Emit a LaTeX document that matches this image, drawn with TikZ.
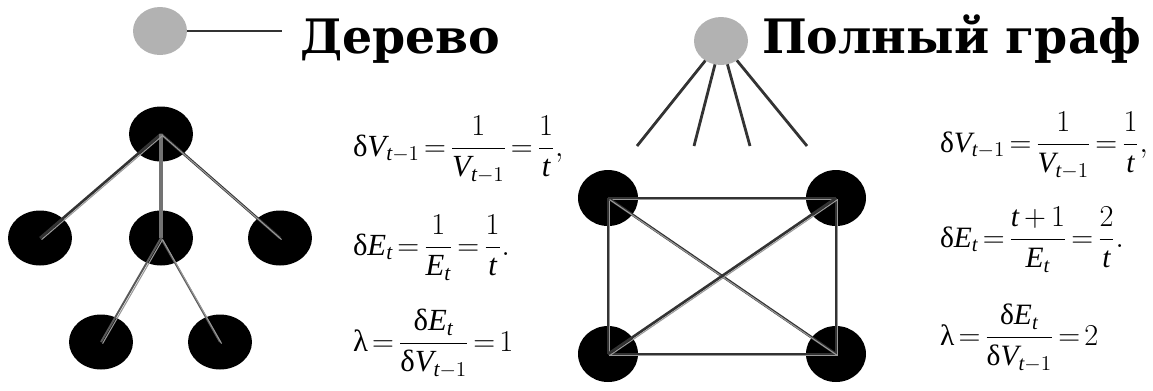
\documentclass[tikz,border=0pt]{standalone}
\usepackage{amsmath}
\usepackage{fontspec}
\setmainfont{Liberation Serif}
\newfontfamily\titlefont{DejaVu Serif}
\usetikzlibrary{shapes.geometric}
\newcommand{\mi}[1]{\textit{#1}}
\newcommand{\dlt}{\text{δ}}
\newcommand{\lmb}{\text{λ}}
\thickmuskip=2.5mu\relax
\medmuskip=3mu\relax

\begin{document}
\begin{tikzpicture}[x=0.02cm, y=-0.02cm,
      every node/.style={inner sep=0pt, outer sep=0pt},
      hub/.style={ellipse, fill=black!30, minimum width=1.08cm, minimum height=0.96cm},
      vertex/.style={ellipse, fill=black, minimum width=1.28cm, minimum height=1.1cm},
      corner/.style={ellipse, fill=black, minimum width=1.2cm, minimum height=1.12cm},
      title/.style={font=\titlefont\bfseries\fontsize{27}{32}\selectfont, anchor=base west},
      formula/.style={font=\fontsize{17.5}{21}\selectfont, anchor=base west},
      narrow/.style={formula, font=\fontsize{16.8}{20}\selectfont},
      spoke/.style={draw=black!80, line width=1.6pt},
      edge/.style={draw=black!80, line width=1.5pt},
      stem/.style={draw=black!55, line width=1.9pt},
      twig/.style={draw=black!65, line width=1.1pt},
      glint/.style={draw=black!40, line width=0.6pt, transform canvas={xshift=0.9pt, yshift=-0.9pt}}
  ]
    \useasboundingbox (0,0) rectangle (1153,390);

    \node[hub] (treehub) at (160,31) {};
    \coordinate (treetail) at (282,31);
    \draw[spoke] (treehub) -- (treetail);
    \node[title] (treetitle) at (300,53) {Дерево};

    \node[hub] (fullhub) at (721,41) {};
    \node[title] (fulltitle) at (762,53) {Полный граф};
    \foreach \n/\x in {1/637,2/694,3/750,4/807} {
      \coordinate (fan\n) at (\x,146);
      \draw[spoke] (fullhub) -- (fan\n);
    }

    \node[vertex] (root) at (161,134) {};
    \node[vertex] (left) at (40,238) {};
    \node[vertex] (mid) at (161,238) {};
    \node[vertex] (right) at (280,238) {};
    \node[vertex] (lowleft) at (101,342) {};
    \node[vertex] (lowright) at (220,342) {};

    \draw[edge] (root.center) -- (left.center);
    \draw[edge] (root.center) -- (right.center);
    \draw[stem] (root.center) -- (mid.center);
    \draw[twig] (mid.center) -- (lowleft.center);
    \draw[twig] (mid.center) -- (lowright.center);
    \foreach \a/\b in {root/left,root/right,mid/lowleft,mid/lowright} {
      \draw[glint] (\a.center) -- (\b.center);
    }

    \node[corner] (nw) at (608,198) {};
    \node[corner] (ne) at (836,198) {};
    \node[corner] (sw) at (608,354) {};
    \node[corner] (se) at (836,354) {};
    \foreach \a/\b in {nw/ne,ne/se,se/sw,sw/nw,nw/se,ne/sw} {
      \draw[edge] (\a.center) -- (\b.center);
      \draw[glint] (\a.center) -- (\b.center);
    }

    \node[formula] (treeV) at (353,156) {$\displaystyle \dlt\mi{V}_{\mi{t}-1}=\frac{1}{\mi{V}_{\mi{t}-1}}=\frac{1}{\mi{t}},$};
    \node[formula] (treeE) at (353,255) {$\displaystyle \dlt\mi{E}_{\mi{t}}=\frac{1}{\mi{E}_{\mi{t}}}=\frac{1}{\mi{t}}.$};
    \node[formula] (treeL) at (353,351) {$\displaystyle \lmb=\frac{\dlt\mi{E}_{\mi{t}}}{\dlt\mi{V}_{\mi{t}-1}}=1$};

    \node[narrow] (fullV) at (940,152) {$\displaystyle \dlt\mi{V}_{\mi{t}-1}=\frac{1}{\mi{V}_{\mi{t}-1}}=\frac{1}{\mi{t}},$};
    \node[narrow] (fullE) at (940,247) {$\displaystyle \dlt\mi{E}_{\mi{t}}=\frac{\mi{t}+1}{\mi{E}_{\mi{t}}}=\frac{2}{\mi{t}}.$};
    \node[narrow] (fullL) at (940,345) {$\displaystyle \lmb=\frac{\dlt\mi{E}_{\mi{t}}}{\dlt\mi{V}_{\mi{t}-1}}=2$};
  \end{tikzpicture}
\end{document}
